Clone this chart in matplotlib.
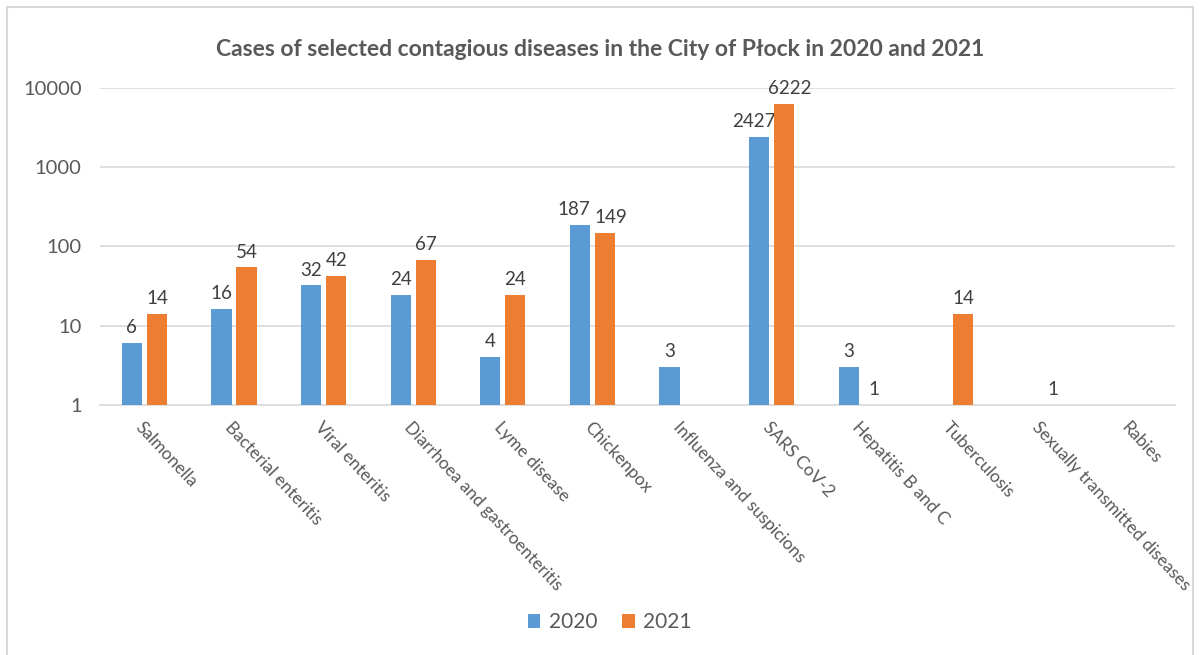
import numpy as np
import matplotlib
matplotlib.use("Agg")
import matplotlib.pyplot as plt
from matplotlib.patches import Rectangle

categories = ['Salmonella', 'Bacterial enteritis', 'Viral enteritis',
              'Diarrhoea and gastroenteritis', 'Lyme disease', 'Chickenpox',
              'Influenza and suspicions', 'SARS CoV-2', 'Hepatitis B and C',
              'Tuberculosis', 'Sexually transmitted diseases', 'Rabies']
cases_2020 = [6, 16, 32, 24, 4, 187, 3, 2427, 3, np.nan, np.nan, np.nan]
cases_2021 = [14, 54, 42, 67, 24, 149, np.nan, 6222, 1, 14, 1, np.nan]
years = ['2020', '2021']

plt.rcParams['font.family'] = ['Lato', 'DejaVu Sans']
txt = '#595959'
c_blue = '#5B9BD5'
c_orange = '#ED7D31'

fig = plt.figure(figsize=(12, 6.55), dpi=100)
fig.patches.append(Rectangle((0.006, -0.01), 0.988, 0.999, transform=fig.transFigure,
                             fill=False, edgecolor='#d9d9d9', linewidth=1.5))
ax = fig.add_axes([0.083, 0.382, 0.896, 0.484])

x = np.arange(len(categories))
w = 0.225
off = 0.14
a20 = np.array(cases_2020, dtype=float)
a21 = np.array(cases_2021, dtype=float)
# labels of neighbouring bars that are both wide get pushed apart a little
crowded = [(not np.isnan(p) and not np.isnan(q) and p >= 100 and q >= 100)
           for p, q in zip(a20, a21)]
for v, dx, col, lab, side in [(a20, -off, c_blue, years[0], -1),
                              (a21, off, c_orange, years[1], 1)]:
    ax.bar(x + dx, v - 1, bottom=1, width=w, color=col, label=lab, zorder=3)
    for xi, vi, cr in zip(x + dx, v, crowded):
        if not np.isnan(vi):
            ax.annotate(str(int(vi)), (xi, vi), xytext=(side * 4 if cr else 0, 5),
                        textcoords='offset points', ha='center', va='bottom',
                        fontsize=13.5, color='#404040')

ax.set_yscale('log')
ax.set_ylim(1, 10000)
ax.set_xlim(-0.5, len(categories) - 0.5)
ax.set_yticks([1, 10, 100, 1000, 10000])
ax.set_yticklabels(['1', '10', '100', '1000', '10000'])
ax.minorticks_off()
ax.yaxis.grid(True, color='#d9d9d9', linewidth=1.2, zorder=0)
ax.tick_params(axis='y', length=0, pad=13, labelsize=14.5, labelcolor=txt)
ax.tick_params(axis='x', length=0, pad=10)
for s in ['top', 'right', 'left']:
    ax.spines[s].set_visible(False)
ax.spines['bottom'].set_color('#d9d9d9')
ax.spines['bottom'].set_linewidth(1.2)

ax.set_xticks(x)
ax.set_xticklabels(categories, rotation=-47, ha='left', va='top',
                   rotation_mode='anchor', fontsize=12.5, color=txt)

fig.text(0.5, 0.924, 'Cases of selected contagious diseases in the City of Płock in 2020 and 2021',
         ha='center', va='center', fontsize=16.5, fontweight='bold', color=txt)

fig.legend(loc='center', bbox_to_anchor=(0.508, 0.05), ncol=2, frameon=False,
           fontsize=15, labelcolor=txt, handlelength=0.6, handleheight=0.6,
           columnspacing=1.2, handletextpad=0.4)

plt.savefig('out.png', dpi=100)
